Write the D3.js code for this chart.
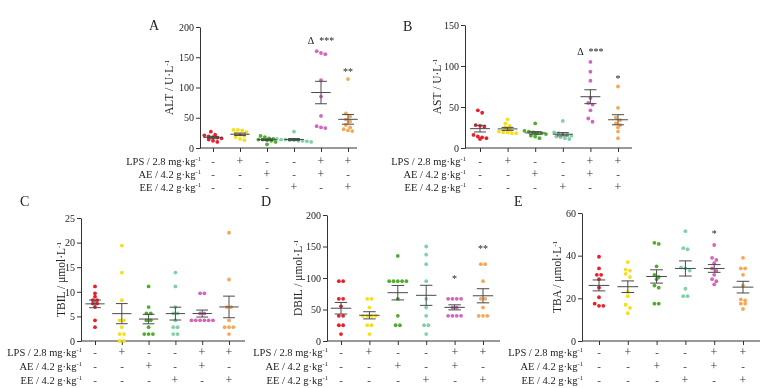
<!DOCTYPE html>
<html>
<head>
<meta charset="utf-8">
<script src="https://cdn.jsdelivr.net/npm/d3@7"></script>
<style>
  body { margin: 0; background: #fff; }
  svg { font-family: "Liberation Serif", "Times New Roman", serif; will-change: transform; }
</style>
</head>
<body>
<svg id="chart" width="772" height="388"></svg>
<script>
// groups and treatment table
const groups = ['NC', 'LPS', 'AE', 'EE', 'LPS+AE', 'LPS+EE'];
const groupColors = ['#e8202a', '#f5df1c', '#4fae2e', '#80d2a6', '#d764bb', '#f8a753'];
const lpsRow = ['-', '+', '-', '-', '+', '+'];
const aeRow = ['-', '-', '+', '-', '+', '-'];
const eeRow = ['-', '-', '-', '+', '-', '+'];
const rowLabels = ['LPS / 2.8 mg·kg', 'AE / 4.2 g·kg', 'EE / 4.2 g·kg'];

// A - ALT (U/L), one array per group
const altValues = [
  [27, 22, 21, 19, 18, 17, 16, 14, 12, 10],
  [30, 30, 29, 26, 24, 22, 20, 18, 15, 13],
  [20, 18, 16, 15, 14, 14, 13, 12, 10, 6],
  [27, 15, 14, 14, 13, 13, 12, 12, 11, 10],
  [160, 157, 155, 112, 85, 53, 36, 34, 33],
  [114, 57, 52, 47, 44, 38, 34, 31, 29, 28]
];
const altTicks = [0, 50, 100, 150, 200];
const altMarks = [{ group: 'LPS+AE', text: 'Δ\u00a0\u00a0***', level: 172 }, { group: 'LPS+EE', text: '**', level: 121 }];

// B - AST (U/L)
const astValues = [
  [46, 43, 28, 27, 26, 16, 14, 13, 12, 11],
  [35, 30, 27, 25, 22, 20, 19, 19, 18, 18],
  [30, 21, 20, 19, 18, 18, 17, 15, 14, 12],
  [33, 19, 18, 17, 16, 15, 14, 13, 12, 11],
  [105, 93, 82, 61, 55, 53, 46, 36, 32],
  [75, 49, 37, 34, 30, 28, 25, 20, 12]
];
const astTicks = [0, 50, 100, 150];
const astMarks = [{ group: 'LPS+AE', text: 'Δ\u00a0\u00a0***', level: 113 }, { group: 'LPS+EE', text: '*', level: 80 }];

// C - TBIL (umol/L)
const tbilValues = [
  [11.1, 9.7, 9.0, 8.3, 8.3, 7.6, 7.6, 6.9, 4.2, 2.8],
  [19.4, 13.9, 8.3, 4.2, 4.2, 2.8, 1.4, 1.4, 0, 0],
  [11.1, 6.9, 5.6, 5.6, 4.2, 4.2, 2.8, 1.4, 1.4, 1.4],
  [13.9, 11.1, 6.9, 5.6, 5.6, 4.2, 2.8, 2.8, 1.4, 1.4],
  [9.7, 9.7, 5.6, 5.6, 4.2, 4.2, 4.2, 4.2, 4.2, 4.2],
  [22, 12.5, 6.9, 6.9, 4.2, 2.8, 2.8, 2.8, 1.4]
];
const tbilTicks = [0, 5, 10, 15, 20, 25];
const tbilMarks = [];

// D - DBIL (umol/L)
const dbilValues = [
  [95, 95, 67, 67, 55, 40, 40, 25, 25, 11],
  [67, 67, 53, 40, 40, 40, 40, 25, 25, 11],
  [135, 95, 95, 95, 95, 95, 67, 40, 25, 25],
  [150, 137, 122, 95, 67, 53, 40, 25, 25, 11],
  [67, 67, 67, 67, 53, 53, 40, 40, 40, 40],
  [122, 122, 95, 67, 67, 53, 40, 40, 40]
];
const dbilTicks = [0, 50, 100, 150, 200];
const dbilMarks = [{ group: 'LPS+AE', text: '*', level: 94 }, { group: 'LPS+EE', text: '**', level: 141 }];

// E - TBA (umol/L)
const tbaValues = [
  [39.5, 34, 31, 31, 29, 25, 20.5, 17.5, 16.5, 16.5],
  [37, 33.5, 33, 31.5, 30, 23, 21, 17, 15.5, 13],
  [46, 45.5, 35, 31, 30, 29, 26, 25, 17.5, 17.5],
  [51.5, 43.5, 43, 34.5, 34, 33, 24.5, 21, 21],
  [45, 39, 38, 36.5, 34, 33, 31, 29, 28, 26.5],
  [39, 34, 34, 31, 26, 19.5, 19, 17.5, 17.5, 15]
];
const tbaTicks = [0, 20, 40, 60];
const tbaMarks = [{ group: 'LPS+AE', text: '*', level: 48.8 }];

class DotPlot {

  constructor(_config, _values, _ticks, _marks) {
    this.config = _config;
    this.values = _values;
    this.ticks = _ticks;
    this.marks = _marks;
    this.initVis();
  }

  initVis() {
    let vis = this;
    let c = vis.config;

    vis.chart = d3.select('#chart').append('g');

    vis.yScale = d3.scaleLinear()
      .domain([0, d3.max(vis.ticks)])
      .range([c.bottom, c.top]);

    vis.xScale = d3.scalePoint()
      .domain(groups)
      .range([c.first, c.first + c.step * (groups.length - 1)]);

    vis.yAxisG = d3.axisLeft(vis.yScale)
      .tickValues(vis.ticks)
      .tickSize(4)
      .tickSizeOuter(0)
      .tickPadding(2);

    vis.chart.append('g')
      .attr('class', 'yAxis')
      .attr('transform', `translate(${c.left},0)`)
      .call(vis.yAxisG);

    vis.xAxisG = d3.axisBottom(vis.xScale)
      .tickSize(4)
      .tickSizeOuter(0)
      .tickFormat('');

    let xg = vis.chart.append('g')
      .attr('class', 'xAxis')
      .attr('transform', `translate(0,${c.bottom})`)
      .call(vis.xAxisG);
    xg.select('.domain').remove();
    xg.append('line')
      .attr('x1', c.left).attr('x2', c.end)
      .attr('stroke', '#333');

    vis.chart.selectAll('.domain').attr('stroke', '#333');
    vis.chart.selectAll('.tick line').attr('stroke', '#333');
    vis.chart.selectAll('.yAxis text')
      .attr('font-family', '"Liberation Serif", serif')
      .attr('font-size', 10)
      .attr('fill', '#222');

    // axis title
    let title = vis.chart.append('text')
      .attr('transform', `translate(${c.titleX},${(c.top + c.bottom) / 2}) rotate(-90)`)
      .attr('text-anchor', 'middle')
      .attr('font-size', 11.5)
      .attr('fill', '#222');
    title.append('tspan').text(c.title);
    title.append('tspan').attr('font-size', 7).attr('dy', -4.5).text('-1');

    // panel letter
    vis.chart.append('text')
      .attr('x', c.letterX)
      .attr('y', c.letterY)
      .attr('font-size', 14)
      .attr('fill', '#222')
      .text(c.letter);

    // treatment rows
    let rows = [lpsRow, aeRow, eeRow];
    rows.forEach((row, i) => {
      let y = c.rowY + i * c.rowGap;
      let lab = vis.chart.append('text')
        .attr('x', c.left + 1)
        .attr('y', y)
        .attr('text-anchor', 'end')
        .attr('font-size', 10.5)
        .attr('fill', '#222');
      lab.append('tspan').text(rowLabels[i]);
      lab.append('tspan').attr('font-size', 6.5).attr('dy', -4).text('-1');

      vis.chart.selectAll('.sign' + i)
        .data(row)
        .join('text')
          .attr('class', 'sign' + i)
          .attr('x', (d, j) => Math.round(vis.xScale(groups[j])))
          .attr('y', y)
          .attr('text-anchor', 'middle')
          .attr('font-size', d => d === '+' ? 12 : 11)
          .attr('fill', '#333')
          .text(d => d);
    });

    vis.updateVis();
  }

  updateVis() {
    let vis = this;
    let c = vis.config;

    // rows of dots side by side when their y positions are close
    let dots = [];
    vis.values.forEach((vals, g) => {
      let cx = vis.xScale(groups[g]);
      let sorted = vals.slice().sort((a, b) => b - a);
      let rows = [];
      sorted.forEach(v => {
        let py = vis.yScale(v);
        let last = rows[rows.length - 1];
        if (last && Math.abs(py - last.y) < 3.4) last.items.push(v);
        else rows.push({ y: py, items: [v] });
      });
      rows.forEach(r => {
        let k = r.items.length;
        r.items.forEach((v, i) => {
          dots.push({ g: g, v: v, x: cx + (i - (k - 1) / 2) * 4.3 });
        });
      });
    });

    vis.chart.selectAll('.dot')
      .data(dots)
      .join('circle')
        .attr('class', 'dot')
        .attr('cx', d => d.x)
        .attr('cy', d => vis.yScale(d.v))
        .attr('r', 1.9)
        .attr('fill', d => groupColors[d.g]);

    // mean +/- SEM
    let stats = vis.values.map((vals, g) => {
      let m = d3.mean(vals);
      let sem = d3.deviation(vals) / Math.sqrt(vals.length);
      return { group: groups[g], mean: m, lo: m - sem, hi: m + sem };
    });
    let half = c.step * 0.36;
    let cap = c.step * 0.22;
    let err = vis.chart.selectAll('.err')
      .data(stats)
      .join('g')
        .attr('class', 'err')
        .attr('stroke', '#4a4a4a')
        .attr('stroke-width', 1);
    err.append('line')
      .attr('x1', d => vis.xScale(d.group)).attr('x2', d => vis.xScale(d.group))
      .attr('y1', d => vis.yScale(d.lo)).attr('y2', d => vis.yScale(d.hi));
    err.append('line')
      .attr('x1', d => vis.xScale(d.group) - half).attr('x2', d => vis.xScale(d.group) + half)
      .attr('y1', d => vis.yScale(d.mean)).attr('y2', d => vis.yScale(d.mean));
    err.append('line')
      .attr('x1', d => vis.xScale(d.group) - cap).attr('x2', d => vis.xScale(d.group) + cap)
      .attr('y1', d => vis.yScale(d.hi)).attr('y2', d => vis.yScale(d.hi));
    err.append('line')
      .attr('x1', d => vis.xScale(d.group) - cap).attr('x2', d => vis.xScale(d.group) + cap)
      .attr('y1', d => vis.yScale(d.lo)).attr('y2', d => vis.yScale(d.lo));

    // significance marks
    vis.chart.selectAll('.sig')
      .data(vis.marks)
      .join('text')
        .attr('class', 'sig')
        .attr('x', d => vis.xScale(d.group))
        .attr('y', d => vis.yScale(d.level))
        .attr('text-anchor', 'middle')
        .attr('font-size', 10)
        .attr('fill', '#222')
        .text(d => d.text);
  }
}

new DotPlot({ left: 200, top: 27, bottom: 148, first: 213, step: 27, end: 357,
  title: 'ALT / U·L', titleX: 173, letter: 'A', letterX: 149, letterY: 30,
  rowY: 165, rowGap: 13 }, altValues, altTicks, altMarks);

new DotPlot({ left: 465, top: 25, bottom: 148, first: 480, step: 27.6, end: 632,
  title: 'AST / U·L', titleX: 441, letter: 'B', letterX: 403, letterY: 31,
  rowY: 165, rowGap: 13 }, astValues, astTicks, astMarks);

new DotPlot({ left: 81, top: 218, bottom: 341, first: 95, step: 26.8, end: 245,
  title: 'TBIL / μmol·L', titleX: 65, letter: 'C', letterX: 20, letterY: 206,
  rowY: 356, rowGap: 14 }, tbilValues, tbilTicks, tbilMarks);

new DotPlot({ left: 327, top: 215, bottom: 341, first: 341, step: 28.4, end: 500,
  title: 'DBIL / μmol·L', titleX: 302, letter: 'D', letterX: 261, letterY: 206,
  rowY: 356, rowGap: 14 }, dbilValues, dbilTicks, dbilMarks);

new DotPlot({ left: 582, top: 213, bottom: 341, first: 599, step: 28.8, end: 760,
  title: 'TBA / μmol·L', titleX: 561, letter: 'E', letterX: 514, letterY: 206,
  rowY: 356, rowGap: 14 }, tbaValues, tbaTicks, tbaMarks);
</script>
</body>
</html>
